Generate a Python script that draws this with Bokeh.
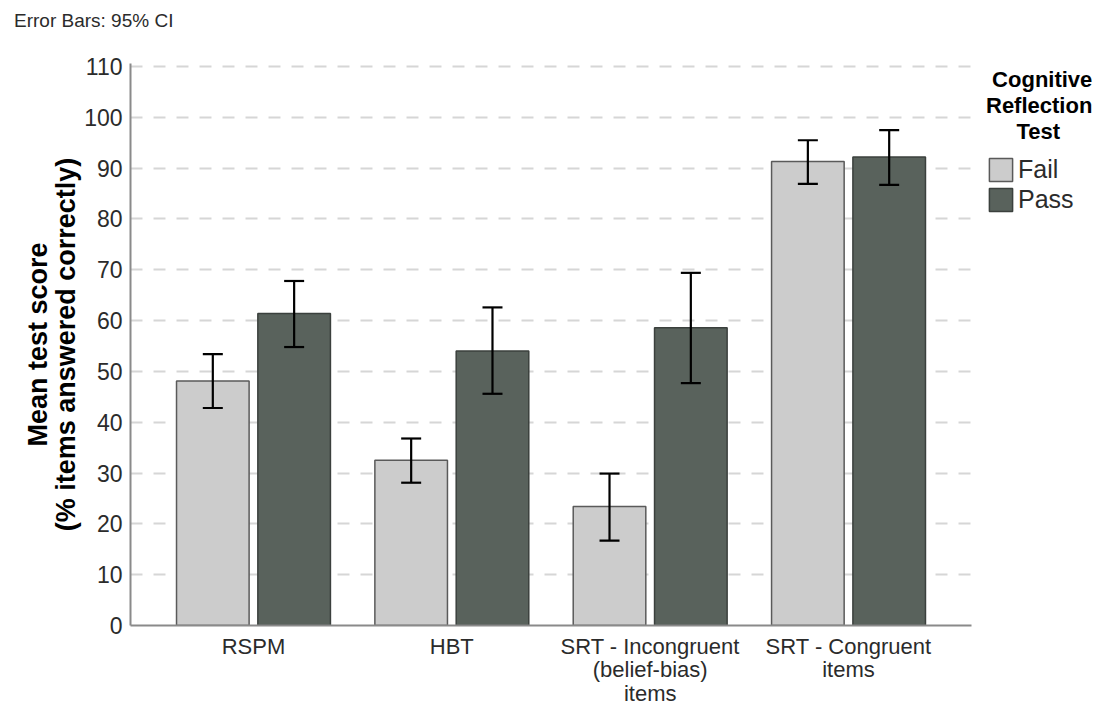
from bokeh.plotting import figure
from bokeh.layouts import column
from bokeh.models import (ColumnDataSource, FactorRange, Whisker, TeeHead, Legend,
                          LegendItem, SingleIntervalTicker, Div)
from bokeh.transform import dodge
from bokeh.embed import file_html
from bokeh.resources import INLINE

categories = ["RSPM", "HBT", "SRT - Incongruent\n(belief-bias)\nitems", "SRT - Congruent\nitems"]
fail_mean = [48.1, 32.5, 23.4, 91.3]
fail_lo = [42.8, 28.1, 16.7, 86.9]
fail_hi = [53.4, 36.8, 29.9, 95.5]
pass_mean = [61.4, 54.0, 58.6, 92.2]
pass_lo = [54.8, 45.6, 47.7, 86.7]
pass_hi = [67.8, 62.6, 69.4, 97.5]
series_names = ["Fail", "Pass"]
legend_title_lines = ["Cognitive", "Reflection", "Test"]
y_ticks_step = 10

FONT = "Liberation Sans"
NB = "\u00a0"

src = ColumnDataSource(dict(cat=categories,
                            fail_mean=fail_mean, fail_lo=fail_lo, fail_hi=fail_hi,
                            pass_mean=pass_mean, pass_lo=pass_lo, pass_hi=pass_hi))

header = Div(text="Error Bars: 95% CI", width=300, height=22, margin=(10, 0, 0, 14),
             styles={"font-family": FONT, "font-size": "19px", "color": "#2b2b2b",
                     "line-height": "22px", "white-space": "nowrap"})

p = figure(x_range=FactorRange(*categories, range_padding=0.12, range_padding_units="absolute"),
           y_range=(0, 110.6),
           frame_width=841, frame_height=562,
           min_border_left=130, min_border_right=140, min_border_top=31, min_border_bottom=82,
           output_backend="svg", toolbar_location=None)
p.title.visible = False
p.outline_line_color = None
p.background_fill_color = "white"
p.border_fill_color = "white"

# axes
for ax in (p.xaxis[0], p.yaxis[0]):
    ax.axis_line_color = "#8a8a8a"
    ax.axis_line_width = 2
    ax.major_tick_out = 0
    ax.major_tick_in = 0
    ax.minor_tick_out = 0
    ax.minor_tick_in = 0
    ax.major_label_text_font = FONT
    ax.major_label_text_color = "#2b2b2b"

p.yaxis.ticker = SingleIntervalTicker(interval=y_ticks_step)
p.yaxis.major_label_text_font_size = "23px"
p.yaxis.major_label_standoff = 8
p.yaxis.axis_label = "Mean test score\n(% items answered correctly)"
p.yaxis.axis_label_text_font = FONT
p.yaxis.axis_label_text_font_style = "bold"
p.yaxis.axis_label_text_font_size = "27px"
p.yaxis.axis_label_text_color = "black"
p.yaxis.axis_label_text_line_height = 0.93
p.yaxis.axis_label_standoff = 0

p.xaxis.major_label_text_font_size = "22px"
p.xaxis.major_label_standoff = 8
p.xaxis.major_label_text_line_height = 0.95

p.xgrid.grid_line_color = None
p.ygrid.grid_line_color = "#d6d6d6"
p.ygrid.grid_line_width = 2
p.ygrid.grid_line_dash = "12 11"

bw = 0.366
off = 0.205
r_fail = p.vbar(x=dodge("cat", -off, range=p.x_range), top="fail_mean", width=bw, source=src,
                fill_color="#cccccc", line_color="#5a5a5a", line_width=1.5)
r_pass = p.vbar(x=dodge("cat", off, range=p.x_range), top="pass_mean", width=bw, source=src,
                fill_color="#59625c", line_color="#3b403d", line_width=1.5)

for lo, hi, o in (("fail_lo", "fail_hi", -off), ("pass_lo", "pass_hi", off)):
    w = Whisker(base=dodge("cat", o, range=p.x_range), lower=lo, upper=hi, source=src,
                level="overlay", line_color="black", line_width=2.2,
                upper_head=TeeHead(size=20, line_color="black", line_width=2.2),
                lower_head=TeeHead(size=20, line_color="black", line_width=2.2))
    p.add_layout(w)

# centre the title lines with non-breaking spaces (legend titles are left-aligned)
legend_title = "\n".join([NB + legend_title_lines[0], legend_title_lines[1], NB * 5 + legend_title_lines[2]])

legend = Legend(items=[LegendItem(label=series_names[0], renderers=[r_fail]),
                       LegendItem(label=series_names[1], renderers=[r_pass])],
                title=legend_title,
                title_text_font=FONT, title_text_font_style="bold", title_text_font_size="22px",
                title_text_color="black", title_standoff=10, title_text_line_height=0.86,
                location=(15, 411), orientation="vertical",
                padding=0, margin=0, spacing=1, glyph_width=29, glyph_height=29,
                label_standoff=3, label_text_font=FONT, label_text_font_size="25px",
                label_text_color="#2b2b2b", label_height=29,
                border_line_color=None, background_fill_alpha=0)
p.add_layout(legend, "right")

layout = column(header, p, spacing=0)
open("out.html", "w").write(file_html(layout, INLINE))
